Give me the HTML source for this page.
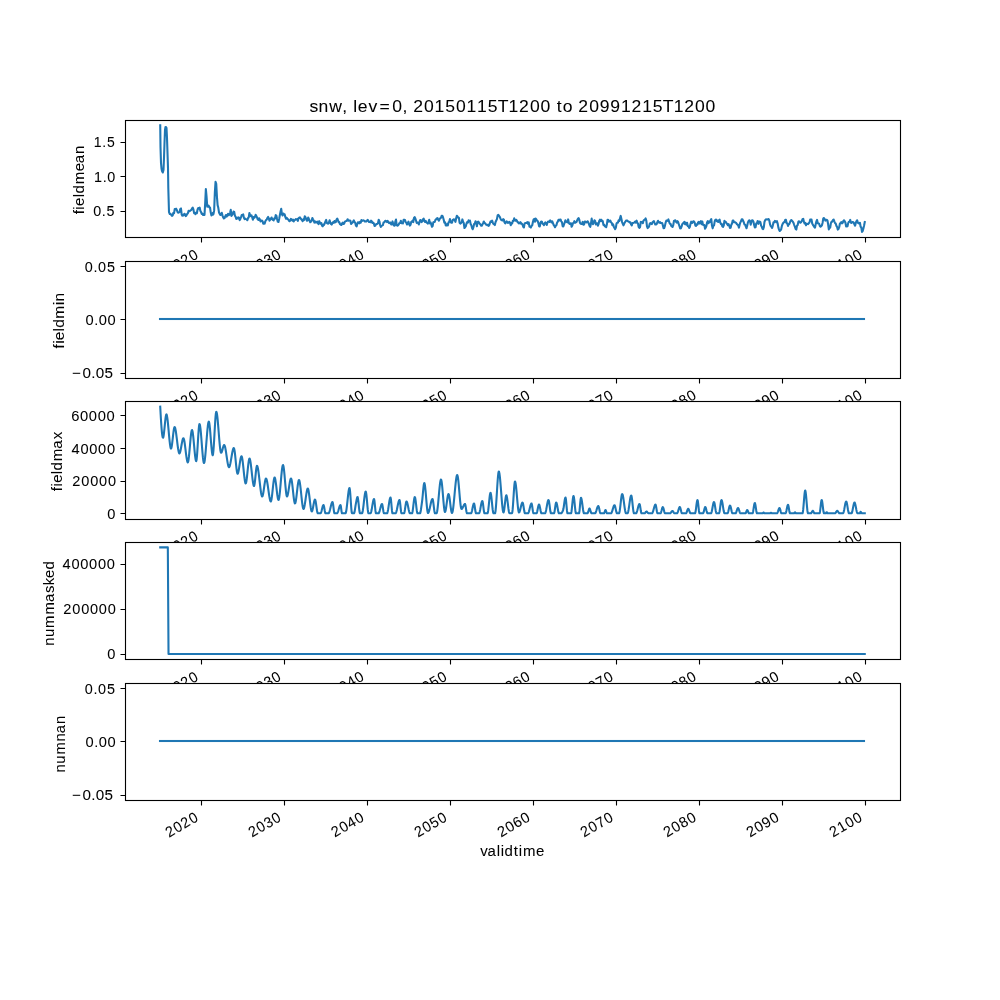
<!DOCTYPE html><html><head><meta charset="utf-8"><style>html,body{margin:0;padding:0;background:#fff;}svg{display:block;will-change:transform;}text{font-family:"Liberation Sans",sans-serif;fill:#000;font-kerning:none;stroke:#000;stroke-width:0.05px;}</style></head><body>
<svg width="1000" height="1000" viewBox="0 0 1000 1000">
<rect x="0" y="0" width="1000" height="1000" fill="#fff"/>
<g id="ax0">
<rect x="125" y="120" width="776" height="118" fill="#fff"/>
<polyline points="160.23,125.33 160.50,147.00 161.00,163.00 161.50,168.50 162.00,171.00 162.80,172.50 163.50,170.00 164.00,158.00 164.50,143.00 165.00,130.00 165.50,127.00 166.00,127.00 166.50,128.00 167.00,138.00 167.50,153.00 168.00,168.00 168.30,188.00 169.00,212.00 169.80,214.00 170.60,213.93 171.29,215.02 171.98,215.86 172.67,215.42 173.36,212.73 174.06,213.19 174.75,209.00 175.44,209.46 176.13,208.68 176.82,209.99 177.51,212.00 178.20,212.63 178.90,212.47 179.59,211.97 180.28,209.01 180.97,208.47 181.66,214.40 182.35,215.66 183.04,214.77 183.74,215.39 184.43,213.72 185.12,214.23 185.81,216.10 186.50,215.31 187.19,213.91 187.88,213.21 188.58,210.69 189.27,211.28 189.96,210.82 190.65,210.27 191.34,209.83 192.03,208.38 192.72,207.55 193.41,209.45 194.11,213.17 194.80,212.91 195.49,214.15 196.18,212.53 196.87,213.24 197.56,209.44 198.25,208.01 198.95,208.54 199.64,207.52 200.33,210.73 201.02,211.91 201.71,213.91 202.40,213.52 203.09,214.95 203.79,214.73 204.48,214.99 205.17,203.42 205.86,189.03 206.55,196.59 207.24,206.69 207.93,206.17 208.63,205.59 209.32,207.32 210.01,207.46 210.70,212.25 211.39,215.40 212.08,212.98 212.77,214.79 213.47,214.01 214.16,210.38 214.85,192.52 215.54,181.88 216.23,183.85 216.92,196.46 217.61,205.13 218.31,207.79 219.00,212.43 219.69,213.89 220.38,215.03 221.07,214.14 221.76,212.80 222.45,215.35 223.15,217.27 223.84,218.39 224.53,218.15 225.22,216.36 225.91,215.03 226.60,216.62 227.29,215.58 227.99,213.80 228.68,215.29 229.37,214.75 230.06,213.03 230.75,209.87 231.44,215.98 232.13,214.94 232.83,213.75 233.52,211.51 234.21,211.96 234.90,215.62 235.59,216.72 236.28,218.94 236.97,217.74 237.67,218.45 238.36,217.33 239.05,217.70 239.74,220.13 240.43,218.69 241.12,216.94 241.81,214.91 242.50,214.66 243.20,214.38 243.89,217.79 244.58,219.06 245.27,218.62 245.96,219.05 246.65,219.41 247.34,220.21 248.04,218.08 248.73,217.44 249.42,212.96 250.11,215.27 250.80,216.24 251.49,215.42 252.18,217.25 252.88,219.76 253.57,217.10 254.26,217.82 254.95,216.86 255.64,214.75 256.33,215.92 257.02,217.36 257.72,219.36 258.41,219.83 259.10,218.27 259.79,219.39 260.48,221.41 261.17,220.78 261.86,220.52 262.56,221.24 263.25,223.80 263.94,222.82 264.63,223.62 265.32,221.40 266.01,220.03 266.70,219.62 267.40,218.04 268.09,216.93 268.78,218.26 269.47,220.69 270.16,219.67 270.85,218.68 271.54,217.49 272.24,219.25 272.93,219.92 273.62,220.35 274.31,218.35 275.00,218.65 275.69,215.18 276.38,215.60 277.08,219.03 277.77,221.64 278.46,221.95 279.15,218.99 279.84,215.19 280.53,211.67 281.22,208.87 281.92,214.16 282.61,215.52 283.30,213.49 283.99,214.36 284.68,214.39 285.37,217.20 286.06,218.76 286.76,217.77 287.45,218.82 288.14,219.26 288.83,220.46 289.52,221.17 290.21,220.65 290.90,218.95 291.59,219.47 292.29,220.56 292.98,219.65 293.67,221.44 294.36,220.23 295.05,220.02 295.74,219.04 296.43,219.42 297.13,219.19 297.82,220.90 298.51,218.31 299.20,217.68 299.89,217.31 300.58,218.44 301.27,219.26 301.97,220.14 302.66,221.17 303.35,219.45 304.04,220.08 304.73,216.39 305.42,217.02 306.11,218.77 306.81,220.76 307.50,220.46 308.19,217.54 308.88,218.90 309.57,220.57 310.26,222.28 310.95,221.73 311.65,220.66 312.34,218.00 313.03,219.51 313.72,220.62 314.41,222.60 315.10,221.43 315.79,222.58 316.49,222.53 317.18,221.65 317.87,223.20 318.56,224.12 319.25,221.14 319.94,222.58 320.63,223.59 321.33,223.02 322.02,225.70 322.71,226.29 323.40,224.51 324.09,224.80 324.78,223.11 325.47,221.44 326.17,219.86 326.86,222.98 327.55,223.59 328.24,223.68 328.93,222.59 329.62,220.32 330.31,222.55 331.01,223.96 331.70,224.62 332.39,223.06 333.08,222.19 333.77,222.81 334.46,221.09 335.15,222.38 335.85,222.09 336.54,219.58 337.23,218.55 337.92,220.08 338.61,222.18 339.30,222.07 339.99,224.18 340.68,224.58 341.38,225.01 342.07,223.48 342.76,222.61 343.45,223.92 344.14,223.66 344.83,221.81 345.52,221.18 346.22,221.04 346.91,220.68 347.60,219.21 348.29,220.70 348.98,220.60 349.67,220.45 350.36,220.73 351.06,223.90 351.75,223.23 352.44,222.72 353.13,221.54 353.82,220.40 354.51,222.20 355.20,222.71 355.90,225.63 356.59,226.41 357.28,224.03 357.97,222.22 358.66,222.50 359.35,223.32 360.04,221.72 360.74,222.69 361.43,220.06 362.12,220.97 362.81,220.56 363.50,220.35 364.19,220.65 364.88,221.54 365.58,221.40 366.27,221.51 366.96,220.75 367.65,219.85 368.34,220.73 369.03,222.06 369.72,221.92 370.42,222.24 371.11,220.63 371.80,221.48 372.49,223.03 373.18,222.56 373.87,223.45 374.56,226.05 375.26,225.67 375.95,224.45 376.64,223.93 377.33,223.97 378.02,223.04 378.71,219.72 379.40,221.32 380.10,224.97 380.79,227.03 381.48,226.02 382.17,225.50 382.86,225.16 383.55,222.60 384.24,222.37 384.94,221.15 385.63,220.71 386.32,221.28 387.01,222.07 387.70,220.84 388.39,222.25 389.08,223.17 389.77,222.48 390.47,222.52 391.16,224.52 391.85,224.43 392.54,221.41 393.23,224.10 393.92,225.56 394.61,225.75 395.31,221.60 396.00,219.52 396.69,225.24 397.38,225.74 398.07,225.31 398.76,224.42 399.45,222.94 400.15,223.00 400.84,220.71 401.53,223.31 402.22,222.99 402.91,223.42 403.60,219.87 404.29,219.77 404.99,220.02 405.68,222.11 406.37,222.88 407.06,224.51 407.75,223.13 408.44,221.63 409.13,224.12 409.83,225.58 410.52,224.79 411.21,221.93 411.90,221.58 412.59,220.62 413.28,222.06 413.97,217.93 414.67,217.11 415.36,218.48 416.05,220.73 416.74,222.94 417.43,222.50 418.12,222.78 418.81,224.47 419.51,221.87 420.20,220.08 420.89,220.30 421.58,222.13 422.27,221.36 422.96,219.49 423.65,218.56 424.35,220.94 425.04,222.01 425.73,220.89 426.42,222.37 427.11,222.83 427.80,223.60 428.49,222.10 429.19,219.76 429.88,223.33 430.57,222.37 431.26,224.44 431.95,226.82 432.64,226.07 433.33,222.16 434.03,221.99 434.72,222.04 435.41,219.96 436.10,219.46 436.79,218.43 437.48,218.03 438.17,219.60 438.86,220.69 439.56,219.29 440.25,218.22 440.94,217.78 441.63,215.90 442.32,215.80 443.01,217.28 443.70,219.81 444.40,222.81 445.09,222.31 445.78,225.55 446.47,225.56 447.16,224.10 447.85,225.31 448.54,222.41 449.24,221.95 449.93,219.12 450.62,221.98 451.31,222.65 452.00,222.79 452.69,219.95 453.38,219.57 454.08,219.32 454.77,220.33 455.46,221.86 456.15,218.30 456.84,215.83 457.53,216.53 458.22,217.65 458.92,217.82 459.61,222.82 460.30,223.56 460.99,223.15 461.68,222.34 462.37,219.40 463.06,221.73 463.76,223.02 464.45,228.00 465.14,227.25 465.83,226.11 466.52,223.54 467.21,222.06 467.90,222.60 468.60,220.32 469.29,220.80 469.98,220.66 470.67,224.09 471.36,225.21 472.05,227.94 472.74,229.27 473.44,227.15 474.13,223.93 474.82,223.61 475.51,221.30 476.20,222.71 476.89,226.22 477.58,222.16 478.28,221.64 478.97,222.48 479.66,223.76 480.35,224.19 481.04,225.66 481.73,225.81 482.42,224.44 483.12,223.20 483.81,221.48 484.50,223.11 485.19,223.35 485.88,224.43 486.57,224.70 487.26,225.30 487.95,224.72 488.65,225.80 489.34,224.82 490.03,222.75 490.72,221.26 491.41,221.85 492.10,220.69 492.79,222.69 493.49,223.90 494.18,224.32 494.87,225.05 495.56,222.03 496.25,220.52 496.94,219.15 497.63,215.43 498.33,214.91 499.02,215.70 499.71,216.76 500.40,218.44 501.09,219.77 501.78,220.18 502.47,220.46 503.17,219.13 503.86,219.53 504.55,222.48 505.24,223.39 505.93,222.51 506.62,221.39 507.31,221.97 508.01,222.96 508.70,222.11 509.39,221.86 510.08,222.92 510.77,225.21 511.46,223.05 512.15,223.48 512.85,220.78 513.54,220.90 514.23,218.36 514.92,219.87 515.61,220.74 516.30,219.91 516.99,220.84 517.69,222.44 518.38,222.21 519.07,223.43 519.76,222.80 520.45,222.20 521.14,223.69 521.83,223.66 522.53,224.71 523.22,226.76 523.91,227.52 524.60,223.60 525.29,222.92 525.98,223.01 526.67,222.73 527.37,222.15 528.06,223.85 528.75,222.37 529.44,226.57 530.13,226.97 530.82,227.53 531.51,225.85 532.21,225.38 532.90,221.95 533.59,219.60 534.28,218.93 534.97,221.77 535.66,218.53 536.35,219.44 537.05,220.58 537.74,221.05 538.43,223.37 539.12,226.35 539.81,226.38 540.50,222.78 541.19,221.44 541.88,221.64 542.58,223.67 543.27,224.22 543.96,225.25 544.65,223.28 545.34,222.31 546.03,223.43 546.72,224.94 547.42,222.73 548.11,221.46 548.80,221.49 549.49,221.97 550.18,220.39 550.87,221.22 551.56,222.40 552.26,221.43 552.95,223.16 553.64,224.97 554.33,225.77 555.02,227.23 555.71,225.84 556.40,225.16 557.10,222.57 557.79,221.65 558.48,219.76 559.17,220.56 559.86,219.44 560.55,219.45 561.24,221.50 561.94,222.05 562.63,226.17 563.32,226.46 564.01,224.37 564.70,222.71 565.39,220.24 566.08,221.81 566.78,221.98 567.47,222.31 568.16,219.41 568.85,222.96 569.54,223.94 570.23,223.90 570.92,223.17 571.62,226.77 572.31,225.45 573.00,223.10 573.69,222.79 574.38,221.17 575.07,222.79 575.76,222.32 576.46,222.05 577.15,220.42 577.84,218.88 578.53,218.05 579.22,219.41 579.91,222.65 580.60,223.79 581.30,223.89 581.99,223.85 582.68,221.87 583.37,224.72 584.06,224.53 584.75,221.51 585.44,221.50 586.14,222.54 586.83,222.36 587.52,221.25 588.21,222.07 588.90,223.93 589.59,225.85 590.28,226.79 590.97,223.29 591.67,218.64 592.36,222.96 593.05,224.19 593.74,222.66 594.43,220.33 595.12,221.02 595.81,224.40 596.51,223.34 597.20,223.27 597.89,225.67 598.58,224.03 599.27,220.78 599.96,219.71 600.65,221.17 601.35,219.77 602.04,221.30 602.73,221.06 603.42,224.87 604.11,224.62 604.80,226.34 605.49,226.53 606.19,227.18 606.88,224.32 607.57,219.69 608.26,220.04 608.95,221.66 609.64,220.96 610.33,220.51 611.03,222.37 611.72,222.78 612.41,225.08 613.10,224.27 613.79,226.65 614.48,227.88 615.17,229.13 615.87,227.58 616.56,223.39 617.25,222.58 617.94,222.63 618.63,220.19 619.32,220.90 620.01,218.26 620.71,215.92 621.40,218.95 622.09,222.09 622.78,223.88 623.47,225.36 624.16,223.74 624.85,222.36 625.55,221.42 626.24,220.48 626.93,220.44 627.62,220.93 628.31,221.54 629.00,221.74 629.69,222.47 630.39,222.25 631.08,224.47 631.77,225.45 632.46,223.05 633.15,222.97 633.84,222.82 634.53,222.23 635.23,221.49 635.92,222.60 636.61,220.67 637.30,222.85 637.99,223.58 638.68,226.92 639.37,227.84 640.06,227.17 640.76,221.91 641.45,222.41 642.14,221.83 642.83,223.15 643.52,220.67 644.21,219.86 644.90,219.74 645.60,218.41 646.29,220.46 646.98,226.37 647.67,228.15 648.36,227.40 649.05,226.55 649.74,223.77 650.44,223.09 651.13,223.85 651.82,224.16 652.51,222.32 653.20,221.63 653.89,221.16 654.58,222.91 655.28,224.50 655.97,224.52 656.66,224.18 657.35,222.22 658.04,220.81 658.73,222.38 659.42,222.74 660.12,222.13 660.81,223.05 661.50,223.07 662.19,223.03 662.88,225.39 663.57,228.26 664.26,227.96 664.96,225.62 665.65,222.59 666.34,220.52 667.03,220.52 667.72,220.88 668.41,219.46 669.10,221.59 669.80,223.71 670.49,223.68 671.18,225.79 671.87,226.49 672.56,227.01 673.25,225.15 673.94,220.96 674.64,220.56 675.33,220.36 676.02,221.91 676.71,222.65 677.40,221.13 678.09,221.95 678.78,224.17 679.48,226.25 680.17,228.35 680.86,228.27 681.55,226.63 682.24,224.32 682.93,223.59 683.62,222.68 684.32,221.90 685.01,224.17 685.70,222.63 686.39,224.72 687.08,222.73 687.77,226.04 688.46,226.36 689.15,227.94 689.85,226.84 690.54,223.76 691.23,221.68 691.92,222.91 692.61,222.67 693.30,221.21 693.99,221.51 694.69,222.61 695.38,225.63 696.07,225.91 696.76,224.35 697.45,224.65 698.14,222.25 698.83,221.79 699.53,223.48 700.22,222.55 700.91,221.09 701.60,224.16 702.29,221.53 702.98,224.69 703.67,224.99 704.37,225.07 705.06,228.77 705.75,227.58 706.44,225.81 707.13,222.27 707.82,221.10 708.51,223.24 709.21,221.57 709.90,221.99 710.59,220.20 711.28,219.04 711.97,225.55 712.66,228.32 713.35,225.80 714.05,225.38 714.74,221.13 715.43,219.66 716.12,219.56 716.81,221.17 717.50,220.54 718.19,221.97 718.89,220.49 719.58,219.58 720.27,222.68 720.96,224.19 721.65,223.83 722.34,226.44 723.03,226.86 723.73,225.49 724.42,220.81 725.11,221.89 725.80,221.89 726.49,223.29 727.18,224.01 727.87,225.12 728.57,224.10 729.26,225.73 729.95,227.87 730.64,227.71 731.33,224.68 732.02,223.59 732.71,220.47 733.41,220.55 734.10,222.29 734.79,222.17 735.48,222.54 736.17,222.96 736.86,224.12 737.55,224.67 738.24,225.48 738.94,227.63 739.63,224.81 740.32,222.50 741.01,221.33 741.70,219.30 742.39,219.31 743.08,220.72 743.78,222.20 744.47,224.51 745.16,224.67 745.85,226.60 746.54,228.28 747.23,225.60 747.92,222.35 748.62,220.95 749.31,220.24 750.00,220.96 750.69,224.68 751.38,221.82 752.07,220.23 752.76,220.56 753.46,221.85 754.15,224.91 754.84,227.43 755.53,227.25 756.22,223.55 756.91,223.25 757.60,221.03 758.30,223.84 758.99,221.74 759.68,221.53 760.37,222.04 761.06,225.55 761.75,226.74 762.44,228.58 763.14,229.11 763.83,227.07 764.52,221.72 765.21,220.16 765.90,219.26 766.59,219.53 767.28,219.43 767.98,219.19 768.67,219.09 769.36,220.69 770.05,224.38 770.74,225.99 771.43,226.77 772.12,227.97 772.82,225.46 773.51,222.25 774.20,222.36 774.89,220.87 775.58,221.12 776.27,222.13 776.96,221.18 777.66,223.48 778.35,227.41 779.04,229.68 779.73,230.97 780.42,230.17 781.11,229.61 781.80,226.26 782.50,224.16 783.19,222.90 783.88,222.13 784.57,222.15 785.26,219.80 785.95,219.89 786.64,223.16 787.33,223.41 788.03,225.91 788.72,224.31 789.41,223.99 790.10,221.90 790.79,220.38 791.48,220.07 792.17,220.88 792.87,221.79 793.56,223.07 794.25,225.02 794.94,226.81 795.63,228.95 796.32,229.59 797.01,225.68 797.71,224.93 798.40,221.63 799.09,221.23 799.78,222.50 800.47,222.64 801.16,222.14 801.85,220.81 802.55,219.23 803.24,218.79 803.93,221.90 804.62,223.53 805.31,222.92 806.00,225.32 806.69,223.81 807.39,224.00 808.08,224.09 808.77,223.08 809.46,222.63 810.15,219.62 810.84,219.55 811.53,219.59 812.23,223.51 812.92,224.88 813.61,225.81 814.30,227.05 814.99,227.67 815.68,224.30 816.37,221.52 817.07,219.90 817.76,223.22 818.45,223.42 819.14,223.69 819.83,226.07 820.52,226.71 821.21,226.16 821.91,225.28 822.60,222.68 823.29,218.37 823.98,218.09 824.67,219.05 825.36,220.59 826.05,220.00 826.75,219.78 827.44,220.45 828.13,224.25 828.82,229.42 829.51,227.92 830.20,227.50 830.89,223.10 831.59,221.58 832.28,221.69 832.97,220.12 833.66,219.51 834.35,221.34 835.04,223.05 835.73,223.64 836.42,225.92 837.12,227.04 837.81,229.61 838.50,228.94 839.19,227.18 839.88,223.76 840.57,222.97 841.26,222.07 841.96,223.36 842.65,222.92 843.34,221.06 844.03,220.27 844.72,221.39 845.41,222.50 846.10,226.43 846.80,226.19 847.49,226.35 848.18,223.15 848.87,221.76 849.56,221.71 850.25,219.91 850.94,222.73 851.64,222.90 852.33,222.03 853.02,222.13 853.71,222.66 854.40,224.50 855.09,225.65 855.78,222.98 856.48,221.06 857.17,220.26 857.86,222.72 858.55,223.36 859.24,223.57 859.93,222.79 860.62,226.70 861.32,227.66 862.01,231.95 862.70,231.11 863.39,228.47 864.08,225.45 864.77,222.06" fill="none" stroke="#1f77b4" stroke-width="2.0833" stroke-linejoin="round" stroke-linecap="square"/>
<rect x="125.5" y="120.5" width="775" height="117" fill="none" stroke="#000" stroke-width="1.111"/>
<path d="M201.5,237.5V242.5M284.5,237.5V242.5M367.5,237.5V242.5M450.5,237.5V242.5M533.5,237.5V242.5M616.5,237.5V242.5M699.5,237.5V242.5M782.5,237.5V242.5M865.5,237.5V242.5M125.5,142.5H120.5M125.5,176.5H120.5M125.5,211.5H120.5" stroke="#000" stroke-width="1.111" fill="none"/>
<text transform="translate(92.79 216.08) scale(0.9689 1)" x="0.45 9.34 14.07" y="0.00" font-size="14.76">0.5</text>
<text transform="translate(93.63 181.61) scale(0.9752 1)" x="0.35 9.27 14.01" y="0.00" font-size="14.76">1.0</text>
<text transform="translate(93.22 146.94) scale(0.9514 1)" x="0.48 9.56 14.42" y="0.00" font-size="14.72">1.5</text>
<text transform="translate(168.83 275.05) rotate(-30) scale(0.9742 1)" x="0.24 9.50 18.38 27.64" y="0.00" font-size="14.76">2020</text>
<text transform="translate(251.77 274.98) rotate(-30) scale(0.9732 1)" x="0.24 9.51 18.61 27.67" y="0.00" font-size="14.76">2030</text>
<text transform="translate(334.70 274.92) rotate(-30) scale(0.9833 1)" x="0.20 9.37 18.36 27.35" y="0.00" font-size="14.76">2040</text>
<text transform="translate(417.72 274.95) rotate(-30) scale(0.9691 1)" x="0.26 9.57 18.63 27.81" y="0.00" font-size="14.76">2050</text>
<text transform="translate(500.75 274.87) rotate(-30) scale(0.9916 1)" x="0.16 9.26 18.17 27.08" y="0.00" font-size="14.76">2060</text>
<text transform="translate(583.85 274.92) rotate(-30) scale(0.9777 1)" x="0.22 9.45 18.46 27.53" y="0.00" font-size="14.76">2070</text>
<text transform="translate(666.87 274.86) rotate(-30) scale(0.9858 1)" x="0.19 9.34 18.30 27.27" y="0.00" font-size="14.76">2080</text>
<text transform="translate(749.81 274.91) rotate(-30) scale(0.9911 1)" x="0.16 9.27 18.14 27.10" y="0.00" font-size="14.76">2090</text>
<text transform="translate(832.90 274.86) rotate(-30) scale(0.9725 1)" x="0.25 9.45 18.61 27.69" y="0.00" font-size="14.76">2100</text>
<text transform="translate(83.55 214.84) rotate(-90) scale(1.0309 1)" x="0.52 5.00 8.61 17.03 20.67 29.60 42.32 50.04 58.99" y="0.00" font-size="14.56">fieldmean</text>
<text transform="translate(309.83 112.18) scale(1.0465 1)" x="-0.36 8.31 18.45 31.10 36.13 41.55 45.91 55.98 66.68 78.68 88.47 93.51 98.77 109.13 119.20 129.38 139.60 149.67 159.82 170.00 179.56 189.88 199.91 210.28 220.43 230.19 236.01 241.73 251.29 256.55 266.91 277.02 287.17 297.29 307.32 317.60 327.78 337.34 347.66 357.69 368.06 378.21" y="0.00" font-size="16.78">snw, lev=0, 20150115T1200 to 20991215T1200</text>
</g>
<g id="ax1">
<rect x="125" y="261" width="776" height="118" fill="#fff"/>
<rect x="158.96" y="317.96" width="706.08" height="2.08" fill="#1f77b4"/>
<rect x="125.5" y="261.5" width="775" height="117" fill="none" stroke="#000" stroke-width="1.111"/>
<path d="M201.5,378.5V383.5M284.5,378.5V383.5M367.5,378.5V383.5M450.5,378.5V383.5M533.5,378.5V383.5M616.5,378.5V383.5M699.5,378.5V383.5M782.5,378.5V383.5M865.5,378.5V383.5M125.5,266.5H120.5M125.5,319.5H120.5M125.5,373.5H120.5" stroke="#000" stroke-width="1.111" fill="none"/>
<text transform="translate(70.73 378.04) scale(1.0332 1)" x="1.32 11.43 19.90 24.26 32.76" y="0.00" font-size="14.76">−0.05</text>
<text transform="translate(85.19 325.38) scale(0.9935 1)" x="0.34 9.06 13.68 22.57" y="0.00" font-size="14.76">0.00</text>
<text transform="translate(84.46 271.79) scale(0.9761 1)" x="0.42 9.26 13.99 22.99" y="0.00" font-size="14.76">0.05</text>
<text transform="translate(168.83 415.74) rotate(-30) scale(0.9742 1)" x="0.24 9.50 18.38 27.64" y="0.00" font-size="14.76">2020</text>
<text transform="translate(251.77 415.67) rotate(-30) scale(0.9732 1)" x="0.24 9.51 18.61 27.67" y="0.00" font-size="14.76">2030</text>
<text transform="translate(334.70 415.61) rotate(-30) scale(0.9833 1)" x="0.20 9.37 18.36 27.35" y="0.00" font-size="14.76">2040</text>
<text transform="translate(417.72 415.64) rotate(-30) scale(0.9691 1)" x="0.26 9.57 18.63 27.81" y="0.00" font-size="14.76">2050</text>
<text transform="translate(500.75 415.56) rotate(-30) scale(0.9916 1)" x="0.16 9.26 18.17 27.08" y="0.00" font-size="14.76">2060</text>
<text transform="translate(583.85 415.61) rotate(-30) scale(0.9777 1)" x="0.22 9.45 18.46 27.53" y="0.00" font-size="14.76">2070</text>
<text transform="translate(666.87 415.55) rotate(-30) scale(0.9858 1)" x="0.19 9.34 18.30 27.27" y="0.00" font-size="14.76">2080</text>
<text transform="translate(749.81 415.60) rotate(-30) scale(0.9911 1)" x="0.16 9.27 18.14 27.10" y="0.00" font-size="14.76">2090</text>
<text transform="translate(832.90 415.55) rotate(-30) scale(0.9725 1)" x="0.25 9.45 18.61 27.69" y="0.00" font-size="14.76">2100</text>
<text transform="translate(64.29 348.95) rotate(-90) scale(1.0636 1)" x="0.44 4.80 8.22 16.46 19.91 28.51 41.10 44.64" y="0.00" font-size="14.56">fieldmin</text>
</g>
<g id="ax2">
<rect x="125" y="401" width="776" height="119" fill="#fff"/>
<polyline points="160.23,406.71 160.58,413.24 160.93,419.22 161.28,424.55 161.63,429.12 161.98,432.84 162.33,435.59 162.68,437.28 163.00,437.80 163.03,437.80 163.38,437.00 163.73,435.05 164.08,432.24 164.43,428.89 164.78,425.30 165.13,421.78 165.48,418.63 165.83,416.17 166.18,414.69 166.40,414.40 166.53,414.48 166.88,415.43 167.23,417.32 167.58,419.97 167.93,423.21 168.28,426.84 168.63,430.69 168.98,434.58 169.33,438.32 169.68,441.74 170.03,444.66 170.38,446.89 170.73,448.25 171.00,448.60 171.08,448.57 171.43,447.76 171.78,446.01 172.13,443.57 172.48,440.67 172.83,437.55 173.18,434.45 173.53,431.61 173.88,429.26 174.23,427.65 174.58,427.00 174.60,427.00 174.93,427.35 175.28,428.43 175.63,430.11 175.98,432.27 176.33,434.80 176.68,437.55 177.03,440.43 177.38,443.29 177.73,446.02 178.08,448.49 178.43,450.59 178.78,452.18 179.13,453.15 179.40,453.40 179.48,453.38 179.83,452.92 180.18,451.90 180.53,450.46 180.88,448.71 181.23,446.78 181.58,444.79 181.93,442.86 182.28,441.12 182.63,439.68 182.98,438.67 183.33,438.21 183.40,438.20 183.68,438.48 184.03,439.54 184.38,441.25 184.73,443.48 185.08,446.07 185.43,448.88 185.78,451.76 186.13,454.57 186.48,457.15 186.83,459.37 187.18,461.08 187.53,462.13 187.80,462.40 187.88,462.37 188.23,461.46 188.58,459.48 188.93,456.65 189.28,453.19 189.63,449.34 189.98,445.31 190.33,441.32 190.68,437.62 191.03,434.41 191.38,431.93 191.73,430.39 192.00,430.00 192.08,430.03 192.43,430.90 192.78,432.81 193.13,435.54 193.48,438.86 193.83,442.58 194.18,446.46 194.53,450.30 194.88,453.87 195.23,456.95 195.58,459.35 195.93,460.82 196.20,461.20 196.28,461.14 196.63,459.49 196.98,455.98 197.33,451.14 197.68,445.51 198.03,439.61 198.38,433.99 198.73,429.16 199.08,425.67 199.43,424.05 199.50,424.00 199.78,424.43 200.13,426.06 200.48,428.72 200.83,432.18 201.18,436.22 201.53,440.61 201.88,445.15 202.23,449.61 202.58,453.77 202.93,457.41 203.28,460.31 203.63,462.24 203.98,463.00 204.00,463.00 204.33,462.45 204.68,460.76 205.03,458.12 205.38,454.73 205.73,450.78 206.08,446.45 206.43,441.95 206.78,437.46 207.13,433.18 207.48,429.30 207.83,426.01 208.18,423.51 208.53,421.99 208.80,421.60 208.88,421.64 209.23,422.72 209.58,425.07 209.93,428.40 210.28,432.41 210.63,436.82 210.98,441.32 211.33,445.64 211.68,449.48 212.03,452.55 212.38,454.55 212.70,455.20 212.73,455.19 213.08,453.87 213.43,450.60 213.78,445.87 214.13,440.14 214.48,433.91 214.83,427.65 215.18,421.83 215.53,416.94 215.88,413.45 216.23,411.85 216.30,411.80 216.58,412.19 216.93,413.72 217.28,416.21 217.63,419.47 217.98,423.32 218.33,427.56 218.68,432.01 219.03,436.47 219.38,440.75 219.73,444.66 220.08,448.01 220.43,450.61 220.78,452.27 221.10,452.80 221.13,452.80 221.48,452.48 221.83,451.71 222.18,450.63 222.53,449.36 222.88,448.05 223.23,446.82 223.58,445.82 223.93,445.17 224.20,445.00 224.28,445.02 224.63,445.50 224.98,446.56 225.33,448.10 225.68,450.01 226.03,452.20 226.38,454.56 226.73,456.98 227.08,459.37 227.43,461.61 227.78,463.61 228.13,465.27 228.48,466.47 228.83,467.12 229.00,467.20 229.18,467.12 229.53,466.56 229.88,465.51 230.23,464.08 230.58,462.34 230.93,460.40 231.28,458.34 231.63,456.24 231.98,454.20 232.33,452.31 232.68,450.66 233.03,449.33 233.38,448.42 233.73,448.01 233.80,448.00 234.08,448.39 234.43,449.88 234.78,452.24 235.13,455.24 235.48,458.64 235.83,462.19 236.18,465.66 236.53,468.79 236.88,471.36 237.23,473.10 237.58,473.80 237.60,473.80 237.93,473.45 238.28,472.39 238.63,470.78 238.98,468.77 239.33,466.50 239.68,464.14 240.03,461.83 240.38,459.74 240.73,458.00 241.08,456.78 241.43,456.22 241.50,456.20 241.78,456.54 242.13,457.85 242.48,459.95 242.83,462.66 243.18,465.78 243.53,469.14 243.88,472.54 244.23,475.78 244.58,478.69 244.93,481.07 245.28,482.73 245.63,483.48 245.70,483.50 245.98,483.12 246.33,481.68 246.68,479.39 247.03,476.48 247.38,473.19 247.73,469.75 248.08,466.39 248.43,463.35 248.78,460.87 249.13,459.17 249.48,458.50 249.50,458.50 249.83,458.92 250.18,460.18 250.53,462.15 250.88,464.65 251.23,467.54 251.58,470.67 251.93,473.87 252.28,477.00 252.63,479.88 252.98,482.38 253.33,484.34 253.68,485.60 254.00,486.00 254.03,486.00 254.38,485.12 254.73,483.01 255.08,480.06 255.43,476.63 255.78,473.13 256.13,469.93 256.48,467.43 256.83,465.99 257.00,465.80 257.18,465.90 257.53,466.68 257.88,468.13 258.23,470.12 258.58,472.56 258.93,475.33 259.28,478.31 259.63,481.39 259.98,484.47 260.33,487.42 260.68,490.14 261.03,492.52 261.38,494.44 261.73,495.79 262.08,496.45 262.20,496.50 262.43,496.31 262.78,495.38 263.13,493.81 263.48,491.77 263.83,489.42 264.18,486.95 264.53,484.52 264.88,482.29 265.23,480.43 265.58,479.12 265.93,478.52 266.00,478.50 266.28,478.72 266.63,479.58 266.98,480.97 267.33,482.80 267.68,484.96 268.03,487.34 268.38,489.84 268.73,492.34 269.08,494.74 269.43,496.93 269.78,498.81 270.13,500.27 270.48,501.20 270.80,501.50 270.83,501.50 271.18,500.84 271.53,499.20 271.88,496.81 272.23,493.89 272.58,490.66 272.93,487.36 273.28,484.20 273.63,481.41 273.98,479.22 274.33,477.85 274.60,477.50 274.68,477.53 275.03,478.25 275.38,479.83 275.73,482.05 276.08,484.74 276.43,487.69 276.78,490.71 277.13,493.60 277.48,496.17 277.83,498.22 278.18,499.56 278.50,500.00 278.53,500.00 278.88,499.30 279.23,497.55 279.58,494.94 279.93,491.67 280.28,487.93 280.63,483.93 280.98,479.86 281.33,475.91 281.68,472.29 282.03,469.20 282.38,466.83 282.73,465.37 283.00,465.00 283.08,465.03 283.43,466.00 283.78,468.11 284.13,471.10 284.48,474.72 284.83,478.72 285.18,482.84 285.53,486.83 285.88,490.45 286.23,493.43 286.58,495.52 286.93,496.47 287.00,496.50 287.28,496.25 287.63,495.31 287.98,493.80 288.33,491.87 288.68,489.66 289.03,487.32 289.38,484.98 289.73,482.81 290.08,480.93 290.43,479.50 290.78,478.66 291.00,478.50 291.13,478.57 291.48,479.48 291.83,481.27 292.18,483.72 292.53,486.65 292.88,489.85 293.23,493.12 293.58,496.26 293.93,499.07 294.28,501.35 294.63,502.89 294.98,503.50 295.00,503.50 295.33,503.05 295.68,501.71 296.03,499.65 296.38,497.06 296.73,494.14 297.08,491.07 297.43,488.04 297.78,485.24 298.13,482.87 298.48,481.10 298.83,480.13 299.00,480.00 299.18,480.13 299.53,481.10 299.88,482.88 300.23,485.29 300.58,488.19 300.93,491.40 301.28,494.76 301.63,498.11 301.98,501.29 302.33,504.12 302.68,506.45 303.03,508.11 303.38,508.94 303.50,509.00 303.73,508.83 304.08,507.99 304.43,506.55 304.78,504.65 305.13,502.41 305.48,499.98 305.83,497.48 306.18,495.05 306.53,492.82 306.88,490.93 307.23,489.49 307.58,488.66 307.80,488.50 307.93,488.57 308.28,489.40 308.63,491.04 308.98,493.30 309.33,496.00 309.68,498.94 310.03,501.95 310.38,504.84 310.73,507.42 311.08,509.52 311.43,510.94 311.78,511.50 311.80,511.50 312.13,511.15 312.48,510.11 312.83,508.58 313.18,506.74 313.53,504.79 313.88,502.89 314.23,501.26 314.58,500.07 314.93,499.52 315.00,499.50 315.28,499.88 315.63,501.27 315.98,503.37 316.33,505.86 316.68,508.42 317.03,510.73 317.38,512.45 317.73,513.27 317.80,513.30 318.08,513.30 318.43,513.30 318.78,513.30 319.13,513.30 319.48,513.30 319.83,513.30 320.18,513.30 320.50,513.30 320.53,513.30 320.88,512.94 321.23,512.07 321.58,510.86 321.93,509.45 322.28,508.01 322.63,506.70 322.98,505.67 323.33,505.08 323.50,505.00 323.68,505.18 324.03,506.43 324.38,508.39 324.73,510.54 325.08,512.34 325.43,513.27 325.50,513.30 325.78,513.30 326.13,513.30 326.48,513.30 326.83,513.30 327.18,513.30 327.53,513.30 327.88,513.30 328.23,513.30 328.50,513.30 328.58,513.29 328.93,512.94 329.28,512.19 329.63,511.11 329.98,509.81 330.33,508.38 330.68,506.90 331.03,505.47 331.38,504.17 331.73,503.10 332.08,502.35 332.43,502.01 332.50,502.00 332.78,502.59 333.13,504.64 333.48,507.46 333.83,510.32 334.18,512.51 334.50,513.30 334.53,513.30 334.88,513.30 335.23,513.30 335.58,513.30 335.93,513.30 336.28,513.30 336.63,513.30 336.98,513.30 337.00,513.30 337.33,513.10 337.68,512.49 338.03,511.57 338.38,510.46 338.73,509.23 339.08,508.00 339.43,506.86 339.78,505.92 340.13,505.26 340.48,505.00 340.50,505.00 340.83,506.01 341.18,508.55 341.53,511.35 341.88,513.14 342.00,513.30 342.23,513.30 342.58,513.30 342.93,513.30 343.28,513.30 343.63,513.30 343.98,513.30 344.33,513.30 344.68,513.30 345.03,513.30 345.38,513.30 345.50,513.30 345.73,513.06 346.08,511.87 346.43,509.85 346.78,507.21 347.13,504.15 347.48,500.87 347.83,497.57 348.18,494.47 348.53,491.76 348.88,489.65 349.23,488.34 349.50,488.00 349.58,488.07 349.93,489.96 350.28,493.82 350.63,498.79 350.98,504.06 351.33,508.79 351.68,512.14 352.00,513.30 352.03,513.30 352.38,513.30 352.73,513.30 353.08,513.30 353.43,513.30 353.78,513.30 354.00,513.30 354.13,513.21 354.48,512.21 354.83,510.37 355.18,508.07 355.53,505.69 355.88,503.60 356.00,503.00 356.23,501.90 356.58,500.04 356.93,498.35 357.28,497.23 357.50,497.00 357.63,497.12 357.98,498.56 358.33,501.17 358.68,504.44 359.03,507.82 359.38,510.77 359.73,512.76 360.00,513.30 360.08,513.30 360.43,513.30 360.78,513.30 361.13,513.30 361.48,513.30 361.83,513.30 362.00,513.30 362.18,513.15 362.53,512.10 362.88,510.20 363.23,507.70 363.58,504.79 363.93,501.72 364.28,498.69 364.63,495.93 364.98,493.67 365.33,492.12 365.68,491.50 365.70,491.50 366.03,492.32 366.38,494.71 366.73,498.15 367.08,502.13 367.43,506.15 367.78,509.69 368.13,512.24 368.48,513.30 368.50,513.30 368.83,513.30 369.18,513.30 369.53,513.30 369.88,513.30 370.23,513.30 370.50,513.30 370.58,513.28 370.93,512.71 371.28,511.50 371.63,509.81 371.98,507.81 372.33,505.68 372.68,503.58 373.03,501.70 373.38,500.20 373.73,499.25 374.00,499.00 374.08,499.06 374.43,500.68 374.78,503.80 375.13,507.51 375.48,510.88 375.83,513.00 376.00,513.30 376.18,513.30 376.53,513.30 376.88,513.30 377.23,513.30 377.58,513.30 377.93,513.30 378.28,513.30 378.50,513.30 378.63,513.26 378.98,512.83 379.33,511.99 379.68,510.85 380.03,509.53 380.38,508.14 380.73,506.79 381.08,505.60 381.43,504.67 381.78,504.11 382.00,504.00 382.13,504.11 382.48,505.34 382.83,507.46 383.18,509.87 383.53,511.99 383.88,513.20 384.00,513.30 384.23,513.30 384.58,513.30 384.93,513.30 385.28,513.30 385.63,513.30 385.98,513.30 386.33,513.30 386.68,513.30 387.00,513.30 387.03,513.30 387.38,512.79 387.73,511.54 388.08,509.73 388.43,507.56 388.78,505.22 389.13,502.88 389.48,500.76 389.83,499.03 390.18,497.88 390.50,497.50 390.53,497.51 390.88,498.97 391.23,502.25 391.58,506.31 391.93,510.16 392.28,512.76 392.50,513.30 392.63,513.30 392.98,513.30 393.33,513.30 393.68,513.30 394.03,513.30 394.38,513.30 394.73,513.30 395.08,513.30 395.43,513.30 395.50,513.30 395.78,513.12 396.13,512.42 396.48,511.31 396.83,509.88 397.18,508.25 397.53,506.51 397.88,504.79 398.23,503.18 398.58,501.80 398.93,500.74 399.28,500.12 399.50,500.00 399.63,500.15 399.98,501.91 400.33,504.94 400.68,508.40 401.03,511.42 401.38,513.16 401.50,513.30 401.73,513.30 402.08,513.30 402.43,513.30 402.78,513.30 403.13,513.30 403.48,513.30 403.83,513.30 404.00,513.30 404.18,513.13 404.53,511.95 404.88,509.96 405.23,507.56 405.58,505.14 405.93,503.07 406.28,501.76 406.50,501.50 406.63,501.55 406.98,502.10 407.33,503.17 407.68,504.61 408.03,506.28 408.38,508.04 408.73,509.75 409.08,511.27 409.43,512.46 409.78,513.16 410.00,513.30 410.13,513.30 410.48,513.30 410.83,513.30 411.18,513.30 411.53,513.30 411.88,513.30 412.00,513.30 412.23,513.00 412.58,511.51 412.93,509.12 413.28,506.22 413.63,503.18 413.98,500.39 414.33,498.24 414.68,497.09 414.80,497.00 415.03,497.33 415.38,498.92 415.73,501.45 416.08,504.49 416.43,507.63 416.78,510.42 417.13,512.45 417.48,513.30 417.50,513.30 417.83,513.30 418.18,513.30 418.53,513.30 418.88,513.30 419.23,513.30 419.58,513.30 419.93,513.30 420.00,513.30 420.28,512.93 420.63,511.56 420.98,509.47 421.33,506.95 421.68,504.30 422.00,502.00 422.03,501.81 422.38,498.87 422.73,495.23 423.08,491.37 423.43,487.76 423.78,484.88 424.13,483.23 424.30,483.00 424.48,483.20 424.83,484.65 425.18,487.26 425.53,490.71 425.88,494.71 426.23,498.94 426.58,503.10 426.93,506.90 427.28,510.01 427.63,512.15 427.98,513.00 428.00,513.00 428.33,512.79 428.68,512.14 429.03,511.14 429.38,509.87 429.73,508.40 430.08,506.80 430.43,505.17 430.78,503.58 431.13,502.11 431.48,500.84 431.83,499.85 432.18,499.21 432.50,499.00 432.53,499.01 432.88,499.88 433.23,501.93 433.58,504.68 433.93,507.66 434.28,510.41 434.63,512.44 434.98,513.30 435.00,513.30 435.33,513.30 435.68,513.30 436.03,513.30 436.38,513.30 436.50,513.30 436.73,513.05 437.08,511.77 437.43,509.59 437.78,506.68 438.13,503.24 438.48,499.46 438.83,495.53 439.18,491.64 439.53,487.99 439.88,484.76 440.23,482.15 440.58,480.34 440.93,479.53 441.00,479.50 441.28,479.95 441.63,481.65 441.98,484.37 442.33,487.86 442.68,491.85 443.03,496.08 443.38,500.29 443.73,504.22 444.08,507.61 444.43,510.19 444.78,511.71 445.00,512.00 445.13,511.93 445.48,511.09 445.83,509.46 446.18,507.26 446.53,504.71 446.88,502.02 447.23,499.41 447.58,497.09 447.93,495.29 448.28,494.21 448.50,494.00 448.63,494.07 448.98,494.96 449.33,496.68 449.68,499.00 450.03,501.70 450.38,504.53 450.73,507.29 451.08,509.73 451.43,511.64 451.78,512.78 452.00,513.00 452.13,512.93 452.48,512.10 452.83,510.42 453.18,508.04 453.53,505.09 453.88,501.72 454.23,498.06 454.58,494.25 454.93,490.43 455.28,486.74 455.63,483.33 455.98,480.31 456.33,477.85 456.68,476.07 457.03,475.12 457.20,475.00 457.38,475.17 457.73,476.41 458.08,478.67 458.43,481.73 458.78,485.37 459.13,489.37 459.48,493.51 459.83,497.57 460.18,501.33 460.53,504.57 460.88,507.07 461.23,508.61 461.50,509.00 461.58,508.99 461.93,508.79 462.28,508.37 462.63,507.78 462.98,507.08 463.33,506.33 463.68,505.60 464.03,504.94 464.38,504.42 464.73,504.09 465.00,504.00 465.08,504.04 465.43,505.09 465.78,507.12 466.13,509.53 466.48,511.73 466.83,513.10 467.00,513.30 467.18,513.30 467.53,513.30 467.88,513.30 468.23,513.30 468.58,513.30 468.93,513.30 469.28,513.30 469.63,513.30 469.98,513.30 470.33,513.30 470.68,513.30 471.00,513.30 471.03,513.30 471.38,512.87 471.73,511.85 472.08,510.42 472.43,508.76 472.78,507.06 473.13,505.51 473.48,504.29 473.83,503.59 474.00,503.50 474.18,503.72 474.53,505.18 474.88,507.50 475.23,510.04 475.58,512.17 475.93,513.26 476.00,513.30 476.28,513.30 476.63,513.30 476.98,513.30 477.33,513.30 477.68,513.30 478.03,513.30 478.38,513.30 478.73,513.30 479.00,513.30 479.08,513.28 479.43,512.73 479.78,511.57 480.13,509.97 480.48,508.11 480.83,506.16 481.18,504.30 481.53,502.71 481.88,501.55 482.23,501.02 482.30,501.00 482.58,501.54 482.93,503.43 483.28,506.13 483.63,509.03 483.98,511.55 484.33,513.08 484.50,513.30 484.68,513.30 485.03,513.30 485.38,513.30 485.73,513.30 486.08,513.30 486.43,513.30 486.78,513.30 487.13,513.30 487.48,513.30 487.50,513.30 487.83,512.62 488.18,510.64 488.53,507.73 488.88,504.30 489.23,500.74 489.58,497.42 489.93,494.76 490.28,493.12 490.50,492.80 490.63,492.91 490.98,494.19 491.33,496.62 491.68,499.79 492.03,503.33 492.38,506.84 492.73,509.92 493.08,512.19 493.43,513.26 493.50,513.30 493.78,513.30 494.13,513.30 494.48,513.30 494.83,513.30 495.00,513.30 495.18,513.04 495.53,511.11 495.88,507.64 496.23,503.04 496.58,497.67 496.93,491.95 497.28,486.26 497.63,480.99 497.98,476.53 498.33,473.28 498.68,471.63 498.80,471.50 499.03,471.78 499.38,473.20 499.73,475.66 500.08,478.94 500.43,482.84 500.78,487.16 501.13,491.70 501.48,496.26 501.83,500.62 502.18,504.59 502.53,507.96 502.88,510.53 503.23,512.10 503.50,512.50 503.58,512.46 503.93,511.41 504.28,509.24 504.63,506.35 504.98,503.13 505.33,500.01 505.68,497.39 506.03,495.66 506.30,495.20 506.38,495.23 506.73,496.08 507.08,497.89 507.43,500.36 507.78,503.21 508.13,506.17 508.48,508.94 508.83,511.24 509.18,512.78 509.50,513.30 509.53,513.30 509.88,513.30 510.23,513.30 510.58,513.30 510.93,513.30 511.28,513.30 511.63,513.30 511.98,513.30 512.00,513.30 512.33,512.25 512.68,509.17 513.03,504.67 513.38,499.35 513.73,493.81 514.08,488.67 514.43,484.53 514.78,482.00 515.00,481.50 515.13,481.59 515.48,482.72 515.83,484.93 516.18,487.98 516.53,491.61 516.88,495.58 517.23,499.63 517.58,503.52 517.93,507.01 518.28,509.83 518.63,511.74 518.98,512.50 519.00,512.50 519.33,512.25 519.68,511.52 520.03,510.42 520.38,509.07 520.73,507.60 521.08,506.11 521.43,504.74 521.78,503.60 522.13,502.82 522.48,502.50 522.50,502.50 522.83,503.01 523.18,504.45 523.53,506.47 523.88,508.72 524.23,510.84 524.58,512.48 524.93,513.27 525.00,513.30 525.28,513.30 525.63,513.30 525.98,513.30 526.33,513.30 526.68,513.30 527.03,513.30 527.38,513.30 527.73,513.30 528.00,513.30 528.08,513.29 528.43,512.90 528.78,512.06 529.13,510.90 529.48,509.54 529.83,508.08 530.18,506.64 530.53,505.35 530.88,504.32 531.23,503.67 531.50,503.50 531.58,503.54 531.93,504.65 532.28,506.79 532.63,509.33 532.98,511.64 533.33,513.09 533.50,513.30 533.68,513.30 534.03,513.30 534.38,513.30 534.73,513.30 535.08,513.30 535.43,513.30 535.78,513.30 536.13,513.30 536.48,513.30 536.50,513.30 536.83,512.89 537.18,511.71 537.53,510.06 537.88,508.23 538.23,506.50 538.58,505.17 538.93,504.52 539.00,504.50 539.28,504.80 539.63,505.88 539.98,507.48 540.33,509.31 540.68,511.07 541.03,512.48 541.38,513.24 541.50,513.30 541.73,513.30 542.08,513.30 542.43,513.30 542.78,513.30 543.13,513.30 543.48,513.30 543.83,513.30 544.18,513.30 544.53,513.30 544.88,513.30 545.00,513.30 545.23,513.14 545.58,512.33 545.93,510.99 546.28,509.28 546.63,507.35 546.98,505.36 547.33,503.48 547.68,501.86 548.03,500.66 548.38,500.05 548.50,500.00 548.73,500.31 549.08,501.80 549.43,504.13 549.78,506.87 550.13,509.57 550.48,511.80 550.83,513.12 551.00,513.30 551.18,513.30 551.53,513.30 551.88,513.30 552.23,513.30 552.58,513.30 552.93,513.30 553.28,513.30 553.63,513.30 553.98,513.30 554.00,513.30 554.33,512.65 554.68,510.86 555.03,508.43 555.38,505.90 555.73,503.78 556.08,502.60 556.20,502.50 556.43,502.70 556.78,503.69 557.13,505.27 557.48,507.19 557.83,509.20 558.18,511.05 558.53,512.48 558.88,513.24 559.00,513.30 559.23,513.30 559.58,513.30 559.93,513.30 560.28,513.30 560.63,513.30 560.98,513.30 561.00,513.30 561.33,513.20 561.68,512.88 562.03,512.40 562.38,511.78 562.73,511.08 563.00,510.50 563.08,510.31 563.43,508.86 563.78,506.71 564.13,504.22 564.48,501.71 564.83,499.53 565.18,498.02 565.50,497.50 565.53,497.51 565.88,498.97 566.23,502.25 566.58,506.31 566.93,510.16 567.28,512.76 567.50,513.30 567.63,513.30 567.98,513.30 568.33,513.30 568.68,513.30 569.03,513.30 569.38,513.30 569.73,513.30 570.08,513.30 570.43,513.30 570.78,513.30 571.00,513.30 571.13,513.17 571.48,511.65 571.83,508.87 572.18,505.40 572.53,501.82 572.88,498.69 573.23,496.57 573.50,496.00 573.58,496.05 573.93,497.34 574.28,499.98 574.63,503.38 574.98,506.98 575.33,510.22 575.68,512.51 576.00,513.30 576.03,513.30 576.38,513.30 576.73,513.30 577.08,513.30 577.43,513.30 577.78,513.30 578.13,513.30 578.48,513.30 578.83,513.30 579.00,513.30 579.18,512.96 579.53,510.64 579.88,506.97 580.23,502.95 580.58,499.58 580.93,497.86 581.00,497.80 581.28,498.17 581.63,499.55 581.98,501.66 582.33,504.22 582.68,506.92 583.03,509.47 583.38,511.57 583.73,512.94 584.00,513.30 584.08,513.30 584.43,513.30 584.78,513.30 585.13,513.30 585.48,513.30 585.83,513.30 586.18,513.30 586.53,513.30 586.88,513.30 587.23,513.30 587.50,513.30 587.58,513.28 587.93,512.74 588.28,511.69 588.63,510.44 588.98,509.31 589.33,508.60 589.50,508.50 589.68,508.61 590.03,509.33 590.38,510.46 590.73,511.70 591.08,512.75 591.43,513.28 591.50,513.30 591.78,513.30 592.13,513.30 592.48,513.30 592.83,513.30 593.18,513.30 593.53,513.30 593.88,513.30 594.23,513.30 594.58,513.30 594.93,513.30 595.00,513.30 595.28,513.15 595.63,512.61 595.98,511.76 596.33,510.71 596.68,509.56 597.03,508.42 597.38,507.39 597.73,506.58 598.08,506.10 598.30,506.00 598.43,506.07 598.78,506.88 599.13,508.32 599.48,510.03 599.83,511.67 600.18,512.87 600.50,513.30 600.53,513.30 600.88,513.30 601.23,513.30 601.58,513.30 601.93,513.30 602.28,513.30 602.63,513.30 602.98,513.30 603.33,513.30 603.68,513.30 604.00,513.30 604.03,513.30 604.38,512.78 604.73,511.72 605.08,510.64 605.43,510.02 605.50,510.00 605.78,510.30 606.13,511.25 606.48,512.38 606.83,513.18 607.00,513.30 607.18,513.30 607.53,513.30 607.88,513.30 608.23,513.30 608.58,513.30 608.93,513.30 609.28,513.30 609.63,513.30 609.98,513.30 610.33,513.30 610.68,513.30 611.00,513.30 611.03,513.30 611.38,513.04 611.73,512.40 612.08,511.47 612.43,510.36 612.78,509.16 613.13,507.96 613.48,506.87 613.83,505.98 614.18,505.39 614.50,505.20 614.53,505.20 614.88,505.70 615.23,506.86 615.58,508.42 615.93,510.11 616.28,511.66 616.63,512.81 616.98,513.30 617.00,513.30 617.33,513.30 617.68,513.30 618.03,513.30 618.38,513.30 618.73,513.30 619.00,513.30 619.08,513.27 619.43,512.36 619.78,510.44 620.13,507.80 620.48,504.76 620.83,501.61 621.18,498.65 621.53,496.20 621.88,494.55 622.20,494.00 622.23,494.00 622.58,494.53 622.93,495.85 623.28,497.77 623.63,500.12 623.98,502.72 624.33,505.37 624.68,507.91 625.03,510.15 625.38,511.92 625.73,513.02 626.00,513.30 626.08,513.30 626.43,513.30 626.78,513.30 627.13,513.30 627.48,513.30 627.50,513.30 627.83,512.91 628.18,511.73 628.53,509.95 628.88,507.74 629.23,505.28 629.58,502.77 629.93,500.37 630.28,498.27 630.63,496.65 630.98,495.69 631.20,495.50 631.33,495.61 631.68,496.88 632.03,499.24 632.38,502.29 632.73,505.61 633.08,508.78 633.43,511.37 633.78,512.98 634.00,513.30 634.13,513.30 634.48,513.30 634.83,513.30 635.18,513.30 635.53,513.30 635.88,513.30 636.00,513.30 636.23,513.19 636.58,512.62 636.93,511.69 637.28,510.49 637.63,509.14 637.98,507.75 638.33,506.43 638.68,505.30 639.03,504.46 639.38,504.03 639.50,504.00 639.73,504.33 640.08,505.88 640.43,508.14 640.78,510.53 641.13,512.45 641.48,513.30 641.50,513.30 641.83,513.30 642.18,513.30 642.53,513.30 642.88,513.30 643.23,513.30 643.58,513.30 643.93,513.30 644.28,513.30 644.50,513.30 644.63,513.28 644.98,513.04 645.33,512.63 645.68,512.16 646.03,511.75 646.38,511.52 646.50,511.50 646.73,511.56 647.08,511.86 647.43,512.30 647.78,512.76 648.13,513.14 648.48,513.30 648.50,513.30 648.83,513.30 649.18,513.30 649.53,513.30 649.88,513.30 650.23,513.30 650.58,513.30 650.93,513.30 651.28,513.30 651.63,513.30 651.98,513.30 652.00,513.30 652.33,513.08 652.68,512.44 653.03,511.47 653.38,510.28 653.73,508.99 654.08,507.68 654.43,506.47 654.78,505.47 655.13,504.78 655.48,504.50 655.50,504.50 655.83,505.13 656.18,506.84 656.53,509.08 656.88,511.27 657.23,512.85 657.50,513.30 657.58,513.30 657.93,513.30 658.28,513.30 658.63,513.30 658.98,513.30 659.33,513.30 659.68,513.30 660.03,513.30 660.38,513.30 660.50,513.30 660.73,513.13 661.08,512.31 661.43,511.05 661.78,509.63 662.13,508.30 662.48,507.34 662.80,507.00 662.83,507.00 663.18,507.49 663.53,508.61 663.88,510.05 664.23,511.51 664.58,512.69 664.93,513.28 665.00,513.30 665.28,513.30 665.63,513.30 665.98,513.30 666.33,513.30 666.68,513.30 667.03,513.30 667.38,513.30 667.73,513.30 668.08,513.30 668.43,513.30 668.78,513.30 669.13,513.30 669.48,513.30 669.83,513.30 670.00,513.30 670.18,513.27 670.53,513.04 670.88,512.65 671.23,512.18 671.58,511.71 671.93,511.31 672.28,511.05 672.50,511.00 672.63,511.03 672.98,511.33 673.33,511.86 673.68,512.45 674.03,512.98 674.38,513.28 674.50,513.30 674.73,513.30 675.08,513.30 675.43,513.30 675.78,513.30 676.13,513.30 676.48,513.30 676.83,513.30 677.00,513.30 677.18,513.23 677.53,512.71 677.88,511.83 678.23,510.73 678.58,509.55 678.93,508.45 679.28,507.58 679.63,507.07 679.80,507.00 679.98,507.12 680.33,507.91 680.68,509.21 681.03,510.69 681.38,512.07 681.73,513.03 682.00,513.30 682.08,513.30 682.43,513.30 682.78,513.30 683.13,513.30 683.48,513.30 683.83,513.30 684.18,513.30 684.53,513.30 684.88,513.30 685.23,513.30 685.58,513.30 685.93,513.30 686.00,513.30 686.28,513.10 686.63,512.41 686.98,511.42 687.33,510.36 687.68,509.44 688.03,508.88 688.20,508.80 688.38,508.88 688.73,509.40 689.08,510.26 689.43,511.28 689.78,512.25 690.13,512.98 690.48,513.30 690.50,513.30 690.83,513.30 691.18,513.30 691.53,513.30 691.88,513.30 692.23,513.30 692.58,513.30 692.93,513.30 693.28,513.30 693.63,513.30 693.98,513.30 694.33,513.30 694.68,513.30 695.00,513.30 695.03,513.30 695.38,512.48 695.73,510.58 696.08,508.02 696.43,505.24 696.78,502.69 697.13,500.80 697.48,500.00 697.50,500.00 697.83,500.95 698.18,503.54 698.53,506.92 698.88,510.23 699.23,512.63 699.50,513.30 699.58,513.30 699.93,513.30 700.28,513.30 700.63,513.30 700.98,513.30 701.33,513.30 701.68,513.30 702.03,513.30 702.38,513.30 702.73,513.30 703.00,513.30 703.08,513.28 703.43,512.73 703.78,511.63 704.13,510.24 704.48,508.84 704.83,507.69 705.18,507.05 705.30,507.00 705.53,507.19 705.88,508.07 706.23,509.41 706.58,510.90 706.93,512.24 707.28,513.12 707.50,513.30 707.63,513.30 707.98,513.30 708.33,513.30 708.68,513.30 709.03,513.30 709.38,513.30 709.73,513.30 710.08,513.30 710.43,513.30 710.78,513.30 711.00,513.30 711.13,513.24 711.48,512.53 711.83,511.20 712.18,509.45 712.53,507.50 712.88,505.56 713.23,503.86 713.58,502.61 713.93,502.02 714.00,502.00 714.28,502.39 714.63,503.78 714.98,505.83 715.33,508.17 715.68,510.43 716.03,512.24 716.38,513.22 716.50,513.30 716.73,513.30 717.08,513.30 717.43,513.30 717.78,513.30 718.13,513.30 718.48,513.30 718.83,513.30 719.00,513.30 719.18,513.11 719.53,511.77 719.88,509.54 720.23,506.83 720.58,504.10 720.93,501.77 721.28,500.30 721.50,500.00 721.63,500.07 721.98,500.90 722.33,502.48 722.68,504.54 723.03,506.83 723.38,509.11 723.73,511.11 724.08,512.58 724.43,513.28 724.50,513.30 724.78,513.30 725.13,513.30 725.48,513.30 725.83,513.30 726.18,513.30 726.53,513.30 726.88,513.30 727.23,513.30 727.50,513.30 727.58,513.28 727.93,512.69 728.28,511.51 728.63,509.97 728.98,508.35 729.33,506.89 729.68,505.86 730.00,505.50 730.03,505.50 730.38,505.98 730.73,507.10 731.08,508.60 731.43,510.22 731.78,511.72 732.13,512.83 732.48,513.30 732.50,513.30 732.83,513.30 733.18,513.30 733.53,513.30 733.88,513.30 734.23,513.30 734.58,513.30 734.93,513.30 735.28,513.30 735.50,513.30 735.63,513.26 735.98,512.79 736.33,511.94 736.68,510.88 737.03,509.78 737.38,508.82 737.73,508.18 738.00,508.00 738.08,508.01 738.43,508.41 738.78,509.22 739.13,510.26 739.48,511.36 739.83,512.36 740.18,513.06 740.50,513.30 740.53,513.30 740.88,513.30 741.23,513.30 741.58,513.30 741.93,513.30 742.28,513.30 742.63,513.30 742.98,513.30 743.33,513.30 743.68,513.30 744.03,513.30 744.38,513.30 744.73,513.30 745.08,513.30 745.43,513.30 745.50,513.30 745.78,513.07 746.13,512.28 746.48,511.28 746.83,510.41 747.18,510.00 747.20,510.00 747.53,510.29 747.88,511.05 748.23,512.00 748.58,512.84 748.93,513.28 749.00,513.30 749.28,513.30 749.63,513.30 749.98,513.30 750.33,513.30 750.68,513.30 751.03,513.30 751.38,513.30 751.73,513.30 752.08,513.30 752.43,513.30 752.50,513.30 752.78,512.89 753.13,511.42 753.48,509.30 753.83,506.97 754.18,504.86 754.53,503.40 754.80,503.00 754.88,503.04 755.23,504.01 755.58,505.95 755.93,508.34 756.28,510.70 756.63,512.51 756.98,513.30 757.00,513.30 757.33,513.30 757.68,513.30 758.03,513.30 758.38,513.30 758.73,513.30 759.08,513.30 759.43,513.30 759.78,513.30 760.13,513.30 760.48,513.30 760.83,513.30 761.18,513.30 761.53,513.30 761.88,513.30 762.23,513.30 762.50,513.30 762.58,513.29 762.93,512.99 763.28,512.60 763.50,512.50 763.63,512.54 763.98,512.87 764.33,513.24 764.50,513.30 764.68,513.30 765.03,513.30 765.38,513.30 765.73,513.30 766.08,513.30 766.43,513.30 766.78,513.30 767.13,513.30 767.48,513.30 767.83,513.30 768.18,513.30 768.53,513.30 768.88,513.30 769.23,513.30 769.58,513.30 769.93,513.30 770.00,513.30 770.28,513.21 770.63,512.96 770.98,512.80 771.00,512.80 771.33,512.93 771.68,513.18 772.00,513.30 772.03,513.30 772.38,513.30 772.73,513.30 773.08,513.30 773.43,513.30 773.78,513.30 774.13,513.30 774.48,513.30 774.83,513.30 775.18,513.30 775.53,513.30 775.88,513.30 776.23,513.30 776.58,513.30 776.93,513.30 777.00,513.30 777.28,513.12 777.63,512.47 777.98,511.50 778.33,510.40 778.68,509.34 779.03,508.50 779.38,508.04 779.50,508.00 779.73,508.19 780.08,509.07 780.43,510.36 780.78,511.72 781.13,512.82 781.48,513.30 781.50,513.30 781.83,513.30 782.18,513.30 782.53,513.30 782.88,513.30 783.23,513.30 783.58,513.30 783.93,513.30 784.28,513.30 784.63,513.30 784.98,513.30 785.33,513.30 785.50,513.30 785.68,513.18 786.03,512.33 786.38,510.89 786.73,509.17 787.08,507.42 787.43,505.93 787.78,504.99 788.00,504.80 788.13,504.90 788.48,506.02 788.83,507.96 789.18,510.17 789.53,512.10 789.88,513.21 790.00,513.30 790.23,513.30 790.58,513.30 790.93,513.30 791.28,513.30 791.63,513.30 791.98,513.30 792.33,513.30 792.68,513.30 793.03,513.30 793.38,513.30 793.73,513.30 794.00,513.30 794.08,513.28 794.43,512.91 794.78,512.43 795.00,512.30 795.13,512.34 795.48,512.77 795.83,513.22 796.00,513.30 796.18,513.30 796.53,513.30 796.88,513.30 797.23,513.30 797.58,513.30 797.93,513.30 798.28,513.30 798.63,513.30 798.98,513.30 799.33,513.30 799.68,513.30 800.03,513.30 800.38,513.30 800.73,513.30 801.08,513.30 801.43,513.30 801.78,513.30 802.13,513.30 802.48,513.30 802.50,513.30 802.83,512.38 803.18,509.72 803.53,505.91 803.88,501.55 804.23,497.25 804.58,493.58 804.93,491.15 805.20,490.50 805.28,490.55 805.63,491.93 805.98,494.80 806.33,498.61 806.68,502.84 807.03,506.96 807.38,510.42 807.73,512.69 808.00,513.30 808.08,513.30 808.43,513.30 808.78,513.30 809.13,513.30 809.48,513.30 809.83,513.30 810.18,513.30 810.53,513.30 810.88,513.30 811.00,513.30 811.23,513.19 811.58,512.69 811.93,511.99 812.28,511.31 812.63,510.86 812.80,510.80 812.98,510.88 813.33,511.37 813.68,512.11 814.03,512.83 814.38,513.26 814.50,513.30 814.73,513.30 815.08,513.30 815.43,513.30 815.78,513.30 816.13,513.30 816.48,513.30 816.83,513.30 817.18,513.30 817.53,513.30 817.88,513.30 818.23,513.30 818.58,513.30 818.93,513.30 819.28,513.30 819.50,513.30 819.63,513.17 819.98,511.69 820.33,509.07 820.68,505.95 821.03,502.97 821.38,500.77 821.70,500.00 821.73,500.01 822.08,500.96 822.43,503.15 822.78,506.02 823.13,509.01 823.48,511.55 823.83,513.09 824.00,513.30 824.18,513.30 824.53,513.30 824.88,513.30 825.23,513.30 825.58,513.30 825.93,513.30 826.00,513.30 826.28,512.66 826.50,512.20 826.63,512.22 826.98,512.46 827.33,512.83 827.68,513.17 828.00,513.30 828.03,513.30 828.38,513.30 828.73,513.30 829.08,513.30 829.43,513.30 829.78,513.30 830.13,513.30 830.48,513.30 830.83,513.30 831.18,513.30 831.53,513.30 831.88,513.30 832.23,513.30 832.58,513.30 832.93,513.30 833.28,513.30 833.63,513.30 833.98,513.30 834.33,513.30 834.68,513.30 835.00,513.30 835.03,513.30 835.38,513.10 835.73,512.66 836.08,512.09 836.43,511.51 836.78,511.04 837.13,510.81 837.20,510.80 837.48,510.90 837.83,511.26 838.18,511.77 838.53,512.34 838.88,512.85 839.23,513.20 839.50,513.30 839.58,513.30 839.93,513.30 840.28,513.30 840.63,513.30 840.98,513.30 841.33,513.30 841.68,513.30 842.03,513.30 842.38,513.30 842.73,513.30 843.00,513.30 843.08,513.28 843.43,512.72 843.78,511.55 844.13,509.94 844.48,508.08 844.83,506.15 845.18,504.35 845.53,502.85 845.88,501.84 846.20,501.50 846.23,501.50 846.58,502.09 846.93,503.47 847.28,505.40 847.63,507.57 847.98,509.73 848.33,511.58 848.68,512.87 849.00,513.30 849.03,513.30 849.38,513.30 849.73,513.30 850.08,513.30 850.43,513.30 850.78,513.30 851.13,513.30 851.48,513.30 851.50,513.30 851.83,512.94 852.18,511.90 852.53,510.37 852.88,508.56 853.23,506.68 853.58,504.94 853.93,503.53 854.28,502.67 854.50,502.50 854.63,502.56 854.98,503.23 855.33,504.51 855.68,506.18 856.03,508.05 856.38,509.89 856.73,511.52 857.08,512.72 857.43,513.28 857.50,513.30 857.78,513.30 858.13,513.30 858.48,513.30 858.83,513.30 859.18,513.30 859.53,513.30 859.88,513.30 860.00,513.30 860.23,512.65 860.50,511.80 860.58,511.81 860.93,512.10 861.28,512.59 861.63,513.07 861.98,513.30 862.00,513.30 862.33,513.30 862.68,513.30 863.03,513.30 863.38,513.30 863.73,513.30 864.08,513.30 864.43,513.30 864.78,513.30 864.80,513.30" fill="none" stroke="#1f77b4" stroke-width="2.0833" stroke-linejoin="round" stroke-linecap="square"/>
<rect x="125.5" y="401.5" width="775" height="118" fill="none" stroke="#000" stroke-width="1.111"/>
<path d="M201.5,519.5V524.5M284.5,519.5V524.5M367.5,519.5V524.5M450.5,519.5V524.5M533.5,519.5V524.5M616.5,519.5V524.5M699.5,519.5V524.5M782.5,519.5V524.5M865.5,519.5V524.5M125.5,415.5H120.5M125.5,448.5H120.5M125.5,481.5H120.5M125.5,513.5H120.5" stroke="#000" stroke-width="1.111" fill="none"/>
<text transform="translate(106.86 519.33) scale(0.9919 1)" x="0.35" y="0.00" font-size="14.76">0</text>
<text transform="translate(72.18 486.24) scale(0.9849 1)" x="0.19 9.35 18.32 27.29 36.27" y="0.00" font-size="14.76">20000</text>
<text transform="translate(71.28 453.82) scale(0.9919 1)" x="0.35 9.26 18.16 27.07 35.98" y="0.00" font-size="14.76">40000</text>
<text transform="translate(70.90 421.30) scale(0.9986 1)" x="0.32 9.17 18.01 26.86 35.71" y="0.00" font-size="14.76">60000</text>
<text transform="translate(168.83 556.43) rotate(-30) scale(0.9742 1)" x="0.24 9.50 18.38 27.64" y="0.00" font-size="14.76">2020</text>
<text transform="translate(251.77 556.36) rotate(-30) scale(0.9732 1)" x="0.24 9.51 18.61 27.67" y="0.00" font-size="14.76">2030</text>
<text transform="translate(334.70 556.30) rotate(-30) scale(0.9833 1)" x="0.20 9.37 18.36 27.35" y="0.00" font-size="14.76">2040</text>
<text transform="translate(417.72 556.33) rotate(-30) scale(0.9691 1)" x="0.26 9.57 18.63 27.81" y="0.00" font-size="14.76">2050</text>
<text transform="translate(500.75 556.25) rotate(-30) scale(0.9916 1)" x="0.16 9.26 18.17 27.08" y="0.00" font-size="14.76">2060</text>
<text transform="translate(583.85 556.30) rotate(-30) scale(0.9777 1)" x="0.22 9.45 18.46 27.53" y="0.00" font-size="14.76">2070</text>
<text transform="translate(666.87 556.24) rotate(-30) scale(0.9858 1)" x="0.19 9.34 18.30 27.27" y="0.00" font-size="14.76">2080</text>
<text transform="translate(749.81 556.29) rotate(-30) scale(0.9911 1)" x="0.16 9.27 18.14 27.10" y="0.00" font-size="14.76">2090</text>
<text transform="translate(832.90 556.24) rotate(-30) scale(0.9725 1)" x="0.25 9.45 18.61 27.69" y="0.00" font-size="14.76">2100</text>
<text transform="translate(61.63 491.67) rotate(-90) scale(1.0356 1)" x="0.50 4.97 8.55 16.94 20.56 29.44 41.55 50.52" y="0.00" font-size="14.56">fieldmax</text>
</g>
<g id="ax3">
<rect x="125" y="542" width="776" height="118" fill="#fff"/>
<polyline points="160.23,547.40 167.83,547.40 168.52,653.98 864.77,653.98" fill="none" stroke="#1f77b4" stroke-width="2.0833" stroke-linejoin="round" stroke-linecap="square"/>
<rect x="125.5" y="542.5" width="775" height="117" fill="none" stroke="#000" stroke-width="1.111"/>
<path d="M201.5,659.5V664.5M284.5,659.5V664.5M367.5,659.5V664.5M450.5,659.5V664.5M533.5,659.5V664.5M616.5,659.5V664.5M699.5,659.5V664.5M782.5,659.5V664.5M865.5,659.5V664.5M125.5,564.5H120.5M125.5,609.5H120.5M125.5,654.5H120.5" stroke="#000" stroke-width="1.111" fill="none"/>
<text transform="translate(106.86 659.33) scale(0.9919 1)" x="0.35" y="0.00" font-size="14.76">0</text>
<text transform="translate(63.11 614.26) scale(0.9861 1)" x="0.19 9.33 18.30 27.26 36.22 45.18" y="0.00" font-size="14.76">200000</text>
<text transform="translate(62.23 568.92) scale(0.9919 1)" x="0.35 9.26 18.16 27.07 35.98 44.89" y="0.00" font-size="14.76">400000</text>
<text transform="translate(168.83 697.12) rotate(-30) scale(0.9742 1)" x="0.24 9.50 18.38 27.64" y="0.00" font-size="14.76">2020</text>
<text transform="translate(251.77 697.05) rotate(-30) scale(0.9732 1)" x="0.24 9.51 18.61 27.67" y="0.00" font-size="14.76">2030</text>
<text transform="translate(334.70 696.99) rotate(-30) scale(0.9833 1)" x="0.20 9.37 18.36 27.35" y="0.00" font-size="14.76">2040</text>
<text transform="translate(417.72 697.02) rotate(-30) scale(0.9691 1)" x="0.26 9.57 18.63 27.81" y="0.00" font-size="14.76">2050</text>
<text transform="translate(500.75 696.94) rotate(-30) scale(0.9916 1)" x="0.16 9.26 18.17 27.08" y="0.00" font-size="14.76">2060</text>
<text transform="translate(583.85 696.99) rotate(-30) scale(0.9777 1)" x="0.22 9.45 18.46 27.53" y="0.00" font-size="14.76">2070</text>
<text transform="translate(666.87 696.93) rotate(-30) scale(0.9858 1)" x="0.19 9.34 18.30 27.27" y="0.00" font-size="14.76">2080</text>
<text transform="translate(749.81 696.98) rotate(-30) scale(0.9911 1)" x="0.16 9.27 18.14 27.10" y="0.00" font-size="14.76">2090</text>
<text transform="translate(832.90 696.93) rotate(-30) scale(0.9725 1)" x="0.25 9.45 18.61 27.69" y="0.00" font-size="14.76">2100</text>
<text transform="translate(54.44 646.13) rotate(-90) scale(1.0209 1)" x="0.29 8.86 17.84 31.10 43.35 52.09 59.57 66.72 75.12" y="0.00" font-size="14.56">nummasked</text>
</g>
<g id="ax4">
<rect x="125" y="683" width="776" height="118" fill="#fff"/>
<rect x="158.96" y="739.96" width="706.08" height="2.08" fill="#1f77b4"/>
<rect x="125.5" y="683.5" width="775" height="117" fill="none" stroke="#000" stroke-width="1.111"/>
<path d="M201.5,800.5V805.5M284.5,800.5V805.5M367.5,800.5V805.5M450.5,800.5V805.5M533.5,800.5V805.5M616.5,800.5V805.5M699.5,800.5V805.5M782.5,800.5V805.5M865.5,800.5V805.5M125.5,688.5H120.5M125.5,741.5H120.5M125.5,795.5H120.5" stroke="#000" stroke-width="1.111" fill="none"/>
<text transform="translate(70.73 800.04) scale(1.0332 1)" x="1.32 11.43 19.90 24.26 32.76" y="0.00" font-size="14.76">−0.05</text>
<text transform="translate(85.19 747.38) scale(0.9935 1)" x="0.34 9.06 13.68 22.57" y="0.00" font-size="14.76">0.00</text>
<text transform="translate(84.46 693.79) scale(0.9761 1)" x="0.42 9.26 13.99 22.99" y="0.00" font-size="14.76">0.05</text>
<text transform="translate(168.83 837.81) rotate(-30) scale(0.9742 1)" x="0.24 9.50 18.38 27.64" y="0.00" font-size="14.76">2020</text>
<text transform="translate(251.77 837.74) rotate(-30) scale(0.9732 1)" x="0.24 9.51 18.61 27.67" y="0.00" font-size="14.76">2030</text>
<text transform="translate(334.70 837.68) rotate(-30) scale(0.9833 1)" x="0.20 9.37 18.36 27.35" y="0.00" font-size="14.76">2040</text>
<text transform="translate(417.72 837.71) rotate(-30) scale(0.9691 1)" x="0.26 9.57 18.63 27.81" y="0.00" font-size="14.76">2050</text>
<text transform="translate(500.75 837.63) rotate(-30) scale(0.9916 1)" x="0.16 9.26 18.17 27.08" y="0.00" font-size="14.76">2060</text>
<text transform="translate(583.85 837.68) rotate(-30) scale(0.9777 1)" x="0.22 9.45 18.46 27.53" y="0.00" font-size="14.76">2070</text>
<text transform="translate(666.87 837.62) rotate(-30) scale(0.9858 1)" x="0.19 9.34 18.30 27.27" y="0.00" font-size="14.76">2080</text>
<text transform="translate(749.81 837.67) rotate(-30) scale(0.9911 1)" x="0.16 9.27 18.14 27.10" y="0.00" font-size="14.76">2090</text>
<text transform="translate(832.90 837.62) rotate(-30) scale(0.9725 1)" x="0.25 9.45 18.61 27.69" y="0.00" font-size="14.76">2100</text>
<text transform="translate(64.60 772.84) rotate(-90) scale(1.0201 1)" x="0.32 8.90 17.91 30.85 38.79 47.82" y="0.00" font-size="14.45">numnan</text>
<text transform="translate(479.80 855.68) scale(1.0306 1)" x="0.35 7.54 16.49 20.24 23.87 32.86 37.82 41.84 54.55" y="0.00" font-size="14.56">validtime</text>
</g>
</svg></body></html>
